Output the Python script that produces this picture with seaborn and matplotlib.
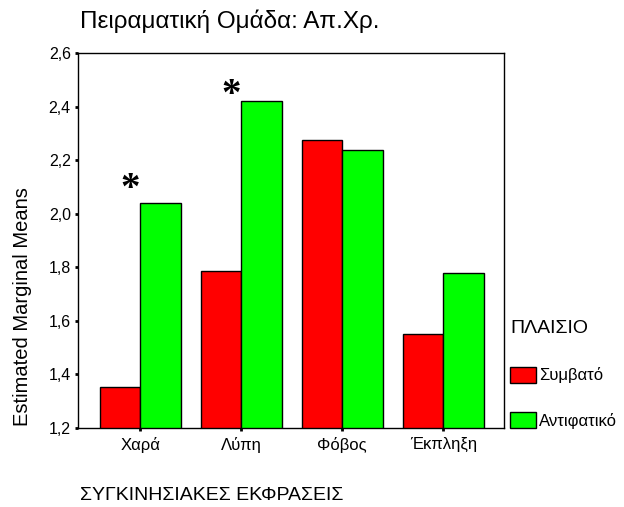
import numpy as np
import pandas as pd
import matplotlib
matplotlib.use('Agg')
import matplotlib.pyplot as plt
import seaborn as sns

# ── Data ──────────────────────────────────────────────────────────────────────
categories = ['Χαρά', 'Λύπη', 'Φόβος', 'Έκπληξη']
groups     = ['Συμβατό', 'Αντιφατικό']
vals_symv  = [1.354, 1.787, 2.277, 1.551]
vals_anti  = [2.040, 2.422, 2.236, 1.777]

yticks       = [1.2, 1.4, 1.6, 1.8, 2.0, 2.2, 2.4, 2.6]
ytick_labels = ['1,2', '1,4', '1,6', '1,8', '2,0', '2,2', '2,4', '2,6']

star_cats = ['Χαρά', 'Λύπη']
star_y    = [2.09, 2.44]

colors = {'Συμβατό': '#FF0000', 'Αντιφατικό': '#00FF00'}

df = pd.DataFrame({
    'cat':   categories * 2,
    'group': [groups[0]] * 4 + [groups[1]] * 4,
    'val':   vals_symv + vals_anti,
})

# ── Figure ────────────────────────────────────────────────────────────────────
sns.set_style('white')
plt.rcParams['font.family'] = ['Liberation Sans', 'DejaVu Sans']
plt.rcParams.update({'text.color': 'black', 'axes.labelcolor': 'black',
                     'xtick.color': 'black', 'ytick.color': 'black'})

fig = plt.figure(figsize=(6.24, 5.07), dpi=100)
ax = fig.add_axes([0.1258, 0.1558, 0.6819, 0.7397])

sns.barplot(data=df, x='cat', y='val', hue='group', order=categories,
            hue_order=groups, palette=colors, saturation=1,
            edgecolor='black', linewidth=1, width=0.8, errorbar=None, ax=ax)

ax.set_ylim(1.2, 2.6)
ax.set_xlim(-0.61, 3.6)
ax.set_yticks(yticks)
ax.set_yticklabels(ytick_labels)
ax.tick_params(axis='both', direction='out', length=2.5, width=2,
               color='black', labelsize=11.5, pad=3, left=True, bottom=True)
ax.tick_params(axis='x', labelsize=12, pad=4)
for s in ax.spines.values():
    s.set_color('black')
    s.set_linewidth(1)
ax.set_xlabel('')
ax.set_ylabel('Estimated Marginal Means', fontsize=14.5)
ax.yaxis.set_label_coords(-0.109, 0.323)

# significance stars
for c, y in zip(star_cats, star_y):
    ax.text(categories.index(c) - 0.1, y, '*', ha='center', va='center',
            fontsize=28, fontweight='bold', family='Liberation Serif')

handles, labels = ax.get_legend_handles_labels()
ax.legend(handles, labels, title='ΠΛΑΙΣΙΟ', frameon=False,
          loc='lower left', bbox_to_anchor=(510 / 624, 78 / 507),
          bbox_transform=fig.transFigure, borderpad=0, borderaxespad=0,
          fontsize=12, title_fontsize=14, alignment='left',
          handlelength=1.56, handleheight=1.1, handletextpad=0.2,
          labelspacing=1.75)

fig.text(80 / 624, 1 - 21 / 507, 'Πειραματική Ομάδα: Απ.Χρ.', fontsize=17.5,
         va='center', ha='left')
fig.text(80 / 624, 1 - 495 / 507, 'ΣΥΓΚΙΝΗΣΙΑΚΕΣ ΕΚΦΡΑΣΕΙΣ', fontsize=14,
         va='center', ha='left')

fig.savefig('out.png', dpi=100)
